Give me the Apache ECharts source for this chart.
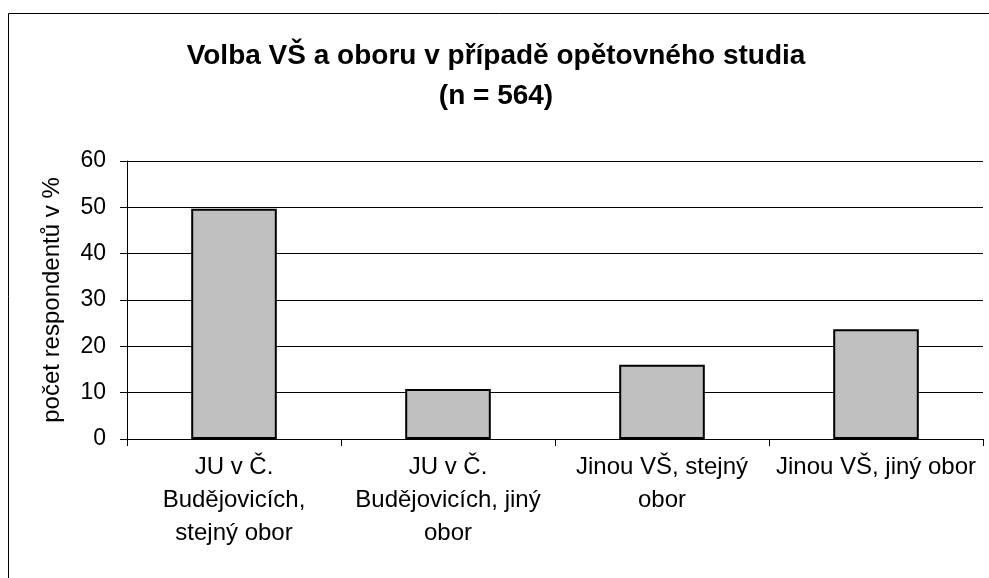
<!DOCTYPE html>
<html>
<head>
<meta charset="utf-8">
<script src="https://cdn.jsdelivr.net/npm/echarts@6/dist/echarts.min.js"></script>
<style>
  html, body { margin: 0; padding: 0; background: #fff; }
  #chart { width: 989px; height: 578px; }
</style>
</head>
<body>
<div id="chart"></div>
<script>
// data
const categories = [
  'JU v Č.\nBudějovicích,\nstejný obor',
  'JU v Č.\nBudějovicích, jiný\nobor',
  'Jinou VŠ, stejný\nobor',
  'Jinou VŠ, jiný obor'
];
const values = [49.7, 10.8, 16.0, 23.7];
const yTicks = [0, 10, 20, 30, 40, 50, 60];

const font = '"Liberation Sans", Arial, sans-serif';

const chart = echarts.init(document.getElementById('chart'));

chart.setOption({
  animation: false,
  backgroundColor: '#fff',
  title: {
    text: 'Volba VŠ a oboru v případě opětovného studia\n(n = 564)',
    left: 491,
    textAlign: 'center',
    top: 31,
    textStyle: {
      fontFamily: font,
      fontSize: 28,
      fontWeight: 'bold',
      color: '#000',
      lineHeight: 40
    }
  },
  // outer frame of the chart area
  graphic: [{
    type: 'rect',
    shape: { x: 8.5, y: 13.5, width: 1000, height: 600 },
    style: { fill: 'none', stroke: '#000', lineWidth: 1 },
    silent: true
  }],
  grid: { left: 127, right: 6, top: 161, bottom: 139 },
  xAxis: {
    type: 'category',
    data: categories,
    boundaryGap: true,
    axisLine: { lineStyle: { color: '#000', width: 1 } },
    axisTick: { show: true, length: 7, lineStyle: { color: '#000' } },
    axisLabel: {
      interval: 0,
      margin: 12,
      fontFamily: font,
      fontSize: 24,
      color: '#000',
      lineHeight: 33
    }
  },
  yAxis: {
    type: 'value',
    min: yTicks[0],
    max: yTicks[yTicks.length - 1],
    interval: 10,
    name: 'počet respondentů v %',
    nameLocation: 'middle',
    nameGap: 63,
    nameRotate: 90,
    nameTextStyle: { fontFamily: font, fontSize: 24, color: '#000' },
    axisLine: { show: true, lineStyle: { color: '#000', width: 1 } },
    axisTick: { show: true, length: 7, lineStyle: { color: '#000' } },
    axisLabel: { margin: 21, fontFamily: font, fontSize: 23, color: '#000' },
    splitLine: { show: true, lineStyle: { color: '#000', width: 1 } }
  },
  series: [{
    type: 'bar',
    data: values,
    barWidth: '40%',
    itemStyle: { color: '#c0c0c0', borderColor: '#000', borderWidth: 2 }
  }]
});
</script>
</body>
</html>
